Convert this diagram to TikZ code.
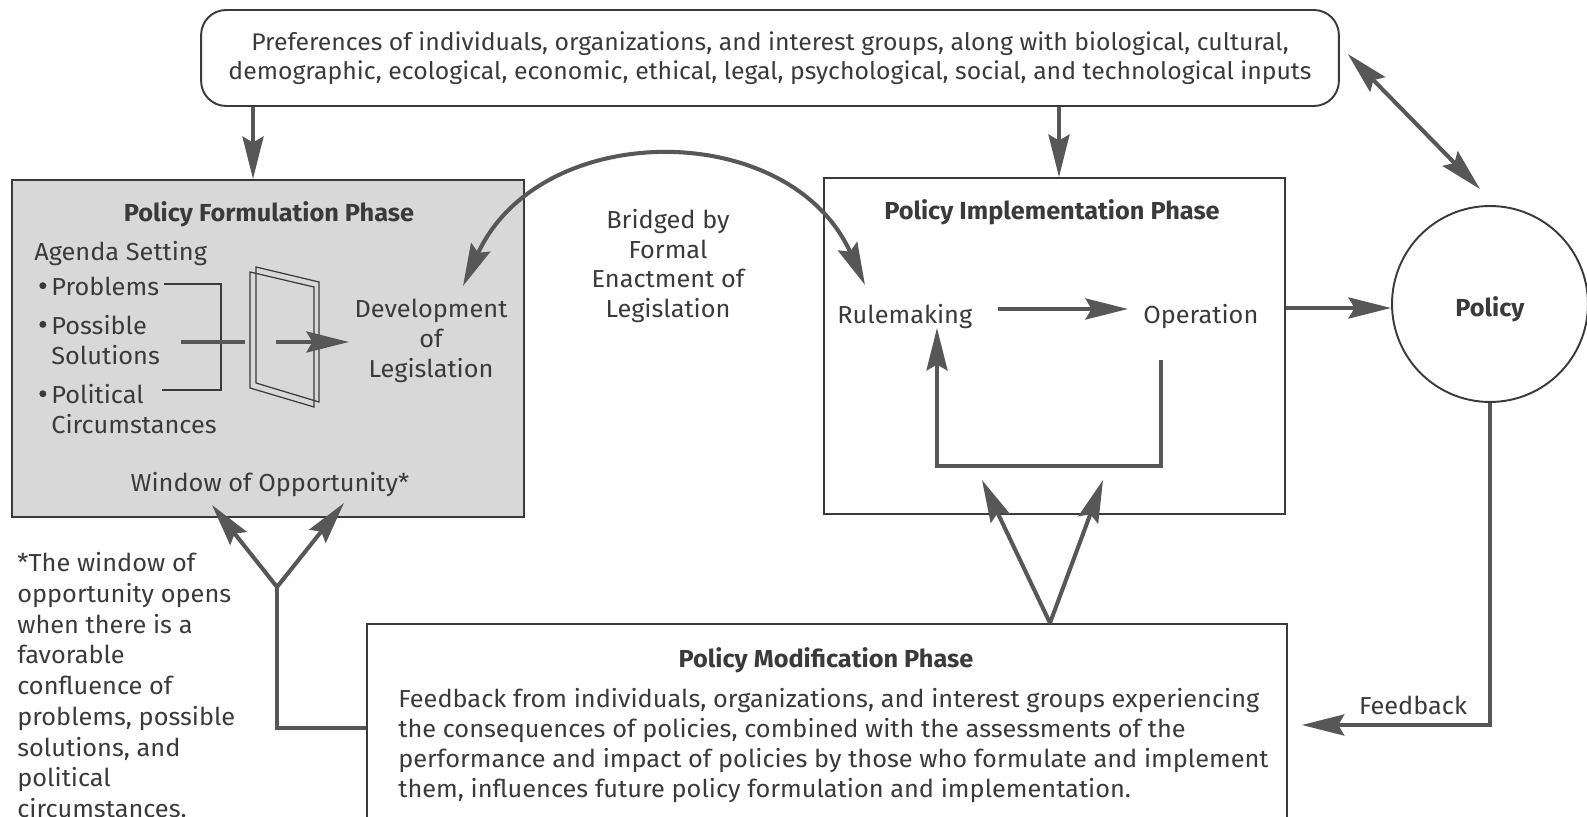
\documentclass[tikz,border=0pt]{standalone}
\usepackage{fontspec}
\setmainfont{Fira Sans}[FakeStretch=1.03]
\usetikzlibrary{arrows.meta,positioning,calc}
\definecolor{inkgray}{HTML}{3A3A3A}
\definecolor{arrowgray}{HTML}{575757}
\definecolor{phasegray}{HTML}{D8D8D8}
\newcommand{\listdot}{\makebox[0.34cm][c]{\raisebox{0.5ex}{\tikz\fill[inkgray] (0,0) circle (0.07cm);}}}
\tikzset{
  every node/.style={text=inkgray, font=\fontsize{14}{17}\selectfont},
  box/.style={draw=inkgray, line width=1.1pt, inner sep=0pt},
  title/.style={font=\fontsize{14}{17}\selectfont\bfseries},
  thin/.style={draw=inkgray, line width=0.7pt},
  heavy/.style={draw=arrowgray, line width=2.3pt},
  tip/.tip={Stealth[length=0.85cm,width=0.42cm,inset=0.12cm]},
  arr/.style={heavy, -tip},
  arrboth/.style={heavy, tip-tip}
}
\begin{document}
\begin{tikzpicture}[x=0.02cm,y=-0.02cm]
  \useasboundingbox (0,0) rectangle (1587,817);
  % boxes
  \node[box, rounded corners=0.5cm, minimum width=22.76cm, minimum height=1.92cm, align=center,
        font=\fontsize{13.7}{16.5}\selectfont] (inputs) at (770,58)
    {Preferences of individuals, organizations, and interest groups, along with biological, cultural,\\
     demographic, ecological, economic, ethical, legal, psychological, social, and technological inputs};
  \node[box, fill=phasegray, minimum width=10.24cm, minimum height=6.74cm] (form) at (268,348.5) {};
  \node[box, minimum width=9.22cm, minimum height=6.72cm] (impl) at (1054.5,346) {};
  \node[box, circle, minimum size=3.92cm] (policy) at (1490,304) {};
  \node[box, minimum width=18.4cm, minimum height=4.4cm, anchor=north west] (modbox) at (366,623) {};
  % formulation phase
  \node[title, anchor=mid] (formtitle) at (269,217) {Policy Formulation Phase};
  \node[anchor=north west, align=left, inner sep=0pt] (agenda) at (34,241)
    {Agenda Setting\\[3pt]
     \listdot Problems\\[5pt]
     \listdot Possible\\
     \hphantom{\listdot}Solutions\\[5.5pt]
     \listdot Political\\
     \hphantom{\listdot}Circumstances};
  \node[align=center, inner sep=3pt] (devel) at (431,341) {Development\\of\\Legislation};
  \node[anchor=mid] (window) at (270,487) {Window of Opportunity*};
  \draw[thin] (164,284) -- (221,284) -- (221,390) -- (162,390);
  \draw[heavy] (181,342) -- (245,342);
  \draw[thin] (256,267) -- (319,282) -- (319,402) -- (256,383) -- cycle;
  \draw[thin] (250,272) -- (314,287) -- (314,407) -- (250,388) -- cycle;
  \coordinate (gate) at (276,342);
  \draw[arr] (gate) -- (gate -| devel.west);
  % bridge
  \node[align=center] (bridge) at (668,266) {Bridged by\\Formal\\Enactment of\\Legislation};
  \coordinate (bridgeL) at (463,286);
  \coordinate (bridgeR) at (865,285);
  \draw[arrboth] (bridgeL) .. controls (540,118) and (790,118) .. (bridgeR);
  % implementation phase
  \node[title, anchor=mid] (impltitle) at (1052,215) {Policy Implementation Phase};
  \node[anchor=mid west, inner sep=0pt] (rule) at (837,319) {Rulemaking};
  \node[anchor=mid west, inner sep=0pt] (oper) at (1143,319) {Operation};
  \draw[arr, shorten <=0.5cm, shorten >=0.3cm] (rule.east |- 0,309) -- (oper.west |- 0,309);
  \coordinate (loopR) at (1161,360);
  \coordinate (loopL) at (937,466);
  \draw[arr] (loopR) |- (loopL) -- (937,328);
  % policy
  \node[title] (policytxt) at ([yshift=-0.1cm]policy) {Policy};
  \draw[arr] (impl.east |- 0,308) -- (policy.west |- 0,308);
  \draw[arrboth] ([shift={(0.16cm,0.08cm)}]inputs.east) -- ([shift={(-0.2cm,0.32cm)}]policy.north);
  % inputs to phases
  \draw[arr] (inputs.south -| 253,0) -- (form.north -| 253,0);
  \draw[arr] (inputs.south -| 1059,0) -- (impl.north -| 1059,0);
  % modification phase
  \node[title, anchor=mid] (modtitle) at (826,663) {Policy Modification Phase};
  \node[anchor=north west, align=left, inner sep=0pt] (modtext) at (398,688)
    {Feedback from individuals, organizations, and interest groups experiencing\\
     the consequences of policies, combined with the assessments of the\\
     performance and impact of policies by those who formulate and implement\\
     them, influences future policy formulation and implementation.};
  \coordinate (vbase) at (modbox.north -| 1050,0);
  \draw[arr] (vbase) -- (982,480);
  \draw[arr] (vbase) -- (1103,480);
  \coordinate (yjoin) at (277,587);
  \coordinate (ycorner) at (277,728);
  \draw[heavy] (modbox.west |- ycorner) -- (ycorner) -- (yjoin);
  \draw[arr] (yjoin) -- (212,505);
  \draw[arr] (yjoin) -- (344,503);
  % feedback
  \coordinate (fbcorner) at (policy.south |- 0,725);
  \draw[arr, shorten >=0.28cm] (policy.south) -- (fbcorner) -- (modbox.east |- fbcorner);
  \node[anchor=mid] (fblabel) at (1413,710) {Feedback};
  % footnote
  \node[anchor=north west, align=left, inner sep=0pt, font=\fontsize{14}{17.5}\selectfont] (footnote) at (17,552)
    {*The window of\\opportunity opens\\when there is a\\favorable\\confluence of\\problems, possible\\solutions, and\\political\\circumstances.};
\end{tikzpicture}
\end{document}
